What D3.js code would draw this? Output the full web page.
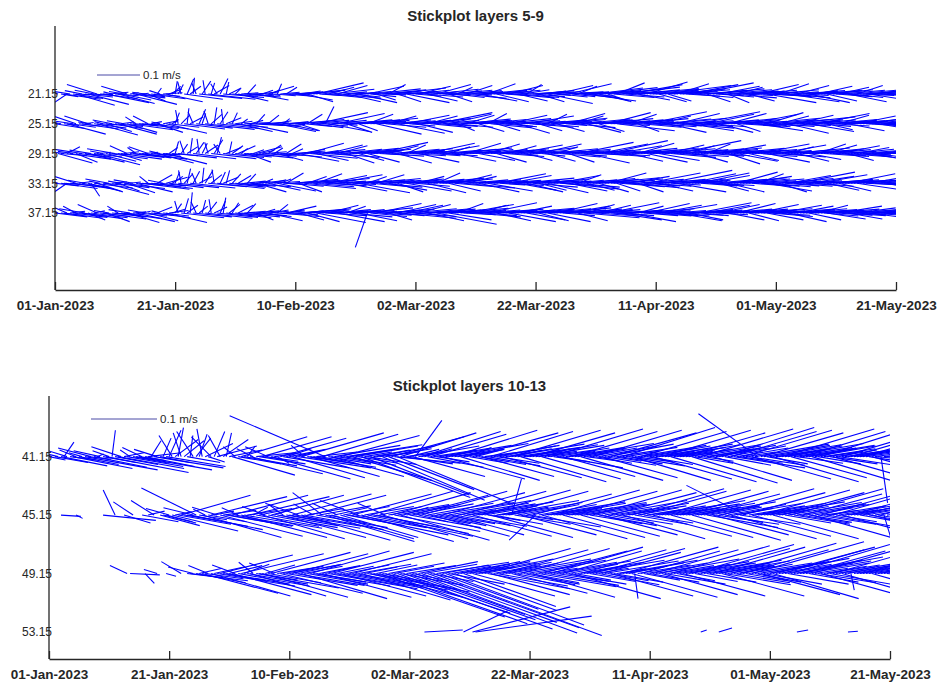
<!DOCTYPE html>
<html>
<head>
<meta charset="utf-8">
<script src="https://cdn.jsdelivr.net/npm/d3@7"></script>
<style>
  body { margin: 0; background: #ffffff; }
  svg { display: block; }
  text { font-family: "Liberation Sans", Arial, Helvetica, sans-serif; fill: #262626; }
</style>
</head>
<body>
<svg id="chart" width="942" height="686"></svg>
<script>
// ---- time axis ----
const startDate = "2023-01-01";
const endDate = "2023-05-21";
const stepHours = 12;
const tickDates = ["2023-01-01", "2023-01-21", "2023-02-10", "2023-03-02",
                   "2023-03-22", "2023-04-11", "2023-05-01", "2023-05-21"];

// ---- depths (m) ----
const topDepths = [21.15, 25.15, 29.15, 33.15, 37.15];
const bottomDepths = [41.15, 45.15, 49.15, 53.15];
const scaleBarSpeed = 0.1; // m/s

// ---- velocity components, mm/s, one value every 12 h ----
// layer 5 (21.15 m)
const u5 = [-60,-75,40,85,-30,-55,70,90,25,-40, 65,95,50,-45,-70,30,80,100,45,-20, 55,85,70,-35,-60,20,75,95,60,15,
 -30,40,80,60,10,-25,45,85,30,20, 5,12,-8,90,15,25,3,-10,100,20, -5,110,8,35,-15,18,95,6,28,60,
 12,70,40,85,20,55,30,75,45,25, 35,60,20,50,10,45,70,25,55,40, 65,80,45,95,60,30,75,110,50,40,
 85,60,100,45,70,95,55,80,35,65, 50,90,70,30,85,60,110,45,75,55, 95,40,70,120,55,80,35,100,65,85,
 60,75,45,90,70,50,105,80,40,65, 85,55,95,70,35,80,100,60,75,45, 70,90,50,110,65,85,40,75,95,60,
 55,80,100,45,70,90,60,35,85,75, 90,60,75,50,105,70,40,85,65,95, 65,100,55,80,45,90,70,115,60,85,
 110,70,130,85,55,120,95,65,140,80, 90,125,60,105,75,135,50,95,115,70, 100,65,85,155,55,95,120,75,60,110,
 80,115,60,90,130,70,100,55,85,120, 65,95,75,110,50,85,100,60,90,70, 85,60,105,70,95,55,80,115,65,90,
 100,70,55,90,120,65,85,75,105,60, 75,95,60,110,80,50,90,70,100,65, 85,70,100,55,90,75,110,60,80,95,
 70,90,65,85,100,60,80,95,75,85, 80];
const v5 = [10,24,-6,-12,-20,9,-10,-26,-2,8, -7,-24,-3,9,22,-1,-11,-20,4,5, -4,-22,-14,6,18,3,-9,-24,-6,2,
 4,-16,-11,-5,14,8,3,-18,12,18, 30,22,28,-12,35,18,38,25,-10,30, 32,-12,26,20,24,36,-8,28,14,-5,
 12,-16,3,-7,22,-4,2,-14,5,9, -3,18,10,-4,24,4,-5,16,3,-2, 5,-14,7,9,-18,4,10,26,-3,6,
 -8,16,11,-5,20,-10,5,-18,3,-7, 4,-20,6,2,18,-6,12,-14,5,-2, 10,22,7,14,-18,5,3,-20,6,9,
 -5,18,4,-7,-16,3,11,22,5,-3, 7,-18,9,-8,16,6,-10,20,8,-2, 4,-16,6,11,24,8,2,-18,9,5,
 -4,20,-9,3,-16,-8,10,22,5,-6, 8,-18,4,7,-22,6,-3,20,-7,5, 3,24,-6,5,18,-9,4,-16,-5,7,
 14,-16,15,8,-18,11,-8,26,16,6, -7,22,4,10,-14,13,6,28,11,3, 9,-18,7,20,-16,8,12,24,5,10,
 -5,22,6,-8,26,4,9,-18,7,12, -4,18,-7,10,-20,6,-9,16,7,-3, 6,-16,9,4,22,7,-3,-20,5,-6,
 10,24,6,-7,-18,5,-9,20,8,-3, 5,-20,8,9,18,4,7,-16,10,3, -6,16,9,-4,-18,-8,10,20,-3,7,
 5,-14,7,-3,16,4,-6,12,-2,3, 2];

// layer 6 (25.15 m)
const u6 = [70,-50,-80,35,90,60,-40,-65,50,85, 20,-55,-30,75,95,40,-20,60,80,-45, 65,90,30,-40,70,100,55,-25,45,85,
 50,-35,25,80,60,-20,35,95,70,15, 10,-6,20,95,4,30,-12,85,15,8, 115,-10,25,6,100,18,-4,35,90,12,
 40,80,15,60,95,30,70,20,50,85, 55,25,70,40,90,60,15,75,45,30, 80,50,100,65,35,90,70,120,45,60,
 20,95,55,75,110,40,85,60,100,50, 70,45,90,125,60,80,35,105,70,55, 95,65,50,85,110,40,75,100,60,90,
 55,80,115,45,70,95,60,130,50,85, 75,100,55,90,40,80,110,65,95,50, 85,60,105,70,45,95,75,55,120,80,
 65,90,50,100,75,40,85,110,60,95, 70,55,105,80,45,90,125,65,75,100, 50,85,70,95,60,115,40,80,100,65,
 90,60,120,75,100,55,85,135,70,95, 110,65,85,125,50,95,70,140,80,60, 95,75,115,55,90,130,65,100,80,120,
 70,105,60,90,145,75,55,110,85,65, 100,80,60,120,90,70,110,55,95,85, 65,115,90,75,105,60,130,85,70,100,
 90,70,110,60,95,150,75,85,100,65, 80,105,65,95,120,70,90,60,110,85, 95,70,100,60,85,115,75,90,65,105,
 75,90,70,100,85,65,95,80,90,70, 85];
const v6 = [-11,20,13,-4,-24,-8,6,22,-5,-12, 3,18,4,-10,-26,-2,5,-18,-11,9, -6,-24,4,7,-20,-14,-3,16,-5,-11,
 -4,18,5,-12,-20,4,7,-22,-8,10, 26,32,20,-12,36,16,28,-10,34,24, -13,30,22,38,-11,28,34,14,-8,26,
 6,-18,11,3,-20,8,-4,22,2,-6, 4,20,-5,7,-18,3,12,-16,5,-2, 7,-16,10,-6,22,8,-9,26,3,-5,
 40,-18,5,8,24,-3,6,-20,9,4, 6,-16,9,13,22,7,3,-24,8,5, -8,18,4,9,-22,3,7,20,-5,8,
 5,-20,12,3,18,-9,7,26,-4,8, -6,22,4,-8,-16,7,11,20,8,3, 7,-18,10,5,24,-9,6,-16,12,-7,
 4,20,-6,10,-22,3,7,18,-4,-8, 6,-16,9,-7,22,8,13,-18,5,10, -4,24,5,-9,18,11,3,-20,9,4,
 8,-18,12,6,26,4,7,-16,-4,9, 10,22,7,12,-18,-8,5,28,-5,4, -7,18,11,4,-20,13,-5,24,6,-10,
 5,-16,-4,7,28,-6,3,22,-7,6, 9,-20,6,12,24,5,10,-18,-6,7, 4,22,-7,6,-16,-4,13,26,-5,9,
 -6,18,10,3,-22,16,-5,20,9,-4, 7,-18,5,9,24,-6,6,-14,10,-5, 8,20,7,4,-16,10,5,18,6,8,
 -4,14,5,-5,-14,3,-6,12,4,-3, 3];

// layer 7 (29.15 m)
const u7 = [-45,80,60,-70,30,95,-35,50,75,-60, 40,85,-50,65,100,25,-30,70,90,45, -65,55,95,35,-40,80,60,-20,75,105,
 30,-45,70,50,85,-25,40,95,20,60, 8,90,15,-10,25,5,100,18,-5,12, 30,-8,105,20,10,-15,95,35,6,25,
 85,40,15,70,55,100,25,60,35,80, 50,30,75,20,60,45,90,35,65,25, 70,95,55,40,85,110,60,75,45,100,
 60,80,45,105,70,50,90,65,115,55, 85,60,100,40,75,95,55,120,70,45, 90,70,50,105,80,60,115,45,85,75,
 65,95,55,80,110,70,45,100,60,90, 75,50,105,65,90,120,55,80,70,95, 60,85,45,100,75,55,95,70,115,50,
 90,65,80,55,105,70,125,60,85,45, 70,100,55,85,65,110,75,50,95,80, 105,60,90,75,130,55,80,100,65,95,
 75,115,60,95,140,70,85,105,55,90, 120,80,65,100,85,135,60,95,75,110, 70,95,125,60,85,105,75,150,65,90,
 100,60,85,115,70,95,135,55,80,105, 80,110,65,90,75,125,60,95,85,70, 95,70,105,60,120,85,75,100,65,90,
 85,110,70,95,60,100,130,75,90,65, 100,75,90,115,65,85,105,70,95,80, 70,95,80,110,60,100,85,75,90,65,
 90,75,85,70,95,80,100,65,85,75, 80];
const v7 = [7,-22,-5,10,16,-13,5,-20,-9,9, -4,-20,8,-8,-26,3,6,-18,-12,-3, 11,-16,-13,4,18,-9,-5,14,-10,-13,
 3,16,-7,-4,-22,6,-3,-24,14,-5, 28,-10,22,30,16,36,-12,26,34,24, 20,26,-12,32,38,22,-9,14,28,18,
 -8,18,12,-5,-20,-10,9,16,7,-6, 4,20,-4,13,-16,-3,-8,22,2,11, 6,-18,10,3,24,-11,4,-16,7,9,
 -4,20,5,-9,18,3,10,-22,12,4, 8,-16,9,3,-20,10,5,26,-4,6, -6,18,4,10,-22,5,11,20,-5,8,
 5,-20,6,7,24,-5,4,18,-3,8, -5,16,10,6,-18,13,3,24,7,9, 6,-16,5,9,22,4,8,-20,11,3,
 -7,18,8,-4,20,6,14,-16,7,4, 4,22,-6,7,-18,11,5,16,-8,6, 10,-20,7,-6,26,4,6,-22,5,8,
 -4,22,5,-7,30,6,-5,18,3,7, 12,-18,5,8,24,13,4,-20,6,10, 5,-16,11,4,20,-9,6,30,-4,8,
 -7,18,9,11,-20,7,13,22,-6,9, 6,20,-5,7,-24,12,4,-18,8,5, 8,-16,9,5,22,-7,6,-20,4,7,
 -6,20,5,-8,16,9,13,-18,7,3, 7,-14,6,11,22,8,-7,20,9,4, -5,18,5,-8,-16,10,-6,14,7,-3,
 6,-12,5,3,-14,7,4,10,5,2, -2];

// layer 8 (33.15 m)
const u8 = [55,-60,85,40,-35,70,95,-50,30,65, -40,75,20,90,60,-25,45,100,-55,35, 80,50,-30,95,65,25,-45,85,55,110,
 40,-20,70,90,35,60,-35,50,80,25, 10,95,-6,20,8,105,15,-10,30,4, 18,90,25,-5,110,12,35,8,85,20,
 65,30,80,50,20,95,40,70,55,25, 45,75,35,60,90,25,55,40,80,60, 100,55,80,120,45,70,95,60,85,110,
 65,90,50,75,105,60,40,95,70,55, 85,120,60,95,45,80,110,65,100,75, 55,90,70,115,60,85,50,105,75,95,
 80,60,100,45,90,125,70,55,95,65, 110,75,55,95,80,60,120,70,90,50, 70,95,65,85,105,50,80,115,60,90,
 55,100,75,60,90,125,65,85,70,105, 85,65,110,50,95,75,60,100,80,130, 60,90,75,105,55,85,120,65,95,70,
 100,70,135,60,90,80,115,55,105,75, 65,95,110,75,60,100,85,125,70,90, 105,80,60,95,150,70,85,115,65,100,
 75,110,90,65,120,85,55,100,80,95, 90,70,105,60,85,130,75,95,65,110, 70,100,85,115,60,90,75,105,95,65,
 95,65,120,80,100,70,90,135,60,85, 80,105,70,90,115,60,95,75,100,85, 100,75,90,65,110,85,70,95,80,105,
 85,70,95,80,90,75,100,70,85,80, 85];
const v8 = [-6,18,-12,-3,-24,-8,-13,16,4,-10, 7,-18,-30,-11,-20,5,-4,-26,10,3, -10,-18,5,-12,-22,3,8,-20,-5,-14,
 -3,16,-9,-12,20,-6,7,14,-10,16, 26,-10,30,22,34,-11,28,24,16,36, 30,-8,20,32,-12,26,14,30,-9,22,
 -6,18,-7,5,22,-8,4,-20,6,10, 3,-16,8,4,-18,10,-3,24,-7,5, 9,-20,6,-12,16,7,-8,22,8,11,
 -4,18,3,-6,20,5,4,-18,6,-3, 6,-22,5,8,16,-7,11,20,-9,7, 5,-16,7,10,-20,6,3,-18,8,5,
 -7,16,9,5,-22,12,6,24,8,4, 10,-18,6,-8,20,4,-11,16,8,3, 6,-20,4,8,-18,5,6,22,-4,7,
 3,18,-5,6,-16,12,5,-20,7,-9, 7,-16,10,4,-22,6,5,18,-5,-13, 5,-18,7,-9,20,8,11,-16,6,4,
 9,-20,13,6,24,5,10,-18,-8,7, -4,16,-10,6,-20,9,-6,24,5,-7, 7,-18,6,9,30,-4,7,-20,5,10,
 6,22,7,5,24,-6,4,18,-5,8, -5,-18,9,4,-20,13,5,26,6,10, 4,16,-6,10,22,-7,6,-18,-8,3,
 7,-20,11,-6,18,5,-7,26,4,6, -5,16,6,-7,20,4,7,-16,9,5, 8,-18,5,4,22,7,6,-14,7,9,
 -4,12,6,-5,14,7,-3,-12,3,-2, 3];

// layer 9 (37.15 m)
const u9 = [75,-40,50,90,-55,35,80,-30,65,95, -60,40,85,25,-45,70,100,55,-35,80, 60,-25,95,45,75,-50,30,90,65,20,
 -40,70,50,85,35,-20,60,95,45,30, 15,-8,100,10,25,5,90,-12,20,8, 110,20,-5,30,95,12,6,105,25,15,
 70,35,90,50,20,85,60,40,75,30, 55,80,40,65,25,90,50,70,35,60, 85,60,105,45,75,95,55,115,70,50,
 95,70,55,85,110,65,80,45,100,75, 60,90,120,70,-28,85,55,105,75,95, 80,55,100,70,90,130,60,85,110,65,
 95,75,115,60,85,105,70,140,55,90, 70,100,80,125,60,95,75,110,85,65, 105,65,90,75,115,55,100,80,70,95,
 75,110,60,95,80,125,70,90,105,65, 90,70,115,55,100,80,65,95,120,75, 60,95,80,110,70,85,130,65,100,75,
 100,75,90,65,120,85,70,105,80,95, 85,110,70,95,60,125,80,100,75,90, 70,100,85,60,115,90,75,105,65,95,
 110,80,95,70,125,65,90,100,75,85, 75,95,65,110,85,70,100,90,60,105, 90,70,105,80,95,120,65,85,100,75,
 80,100,70,115,90,65,95,85,110,75, 95,75,105,85,70,100,80,90,115,65, 85,100,70,95,80,110,75,90,85,100,
 80,95,75,90,85,70,95,80,90,75, 85];
const v9 = [-9,18,-5,-12,24,4,-10,16,-7,-13, 10,-16,-11,5,20,-8,-14,-20,6,-9, -6,16,-13,-4,-22,8,3,-20,-7,4,
 7,-18,-5,-11,14,5,-7,-22,6,9, 22,28,-11,34,18,48,-9,26,16,30, -12,26,32,14,-10,28,36,-11,20,24,
 -7,18,-9,4,22,-6,5,-16,-8,9, 4,-18,7,-3,20,-8,5,16,8,-4, 6,-16,9,5,-20,10,3,-22,7,4,
 -6,18,4,8,-20,5,6,16,-9,8, 5,-18,12,6,-80,-8,4,22,-5,7, 7,-16,9,-6,20,-12,5,18,10,-5,
 -8,20,10,4,-18,9,5,-26,3,7, 6,-16,8,11,22,7,-4,20,6,4, -9,18,7,-6,24,4,8,-18,5,9,
 4,-20,6,7,16,11,5,-16,9,3, 7,-18,10,4,-20,6,5,22,12,-6, 5,16,7,9,-18,6,-11,20,8,5,
 -7,18,8,5,24,-5,4,-16,-6,7, 6,-20,5,7,16,10,-6,22,5,-7, 4,18,-6,5,20,-7,6,-18,3,-5,
 8,-16,6,4,24,-6,7,18,5,6, -4,20,5,9,-16,4,8,22,5,9, 6,-18,8,5,20,10,4,-16,-8,5,
 -5,18,6,9,-20,4,8,16,10,5, 6,-16,8,5,18,7,-7,-14,9,4, -5,16,5,-6,-14,8,-4,12,7,-5,
 5,-12,6,-3,10,4,-5,8,5,-2, 2];

// layer 10 (41.15 m)
const u10 = [25,-35,50,-60,70,15,-45,40,90,-25, 60,-20,110,35,-50,80,10,-40,50,125, -25,5,65,100,-45,30,85,-15,55,115,
 40,-30,75,50,15,105,-35,45,12,90, 18,-20,35,8,-12,30,50,4,-25,22, 12,-8,42,25,-30,16,60,-18,38,8,
 50,95,-18,65,100,80,12,110,-25,58, 70,105,50,-35,120,40,18,100,100,38, 55,110,35,110,125,-20,75,105,95,62,
 40,115,-145,65,110,100,58,120,80,115, 70,120,95,60,165,42,75,150,55,88, 60,155,70,130,110,100,175,115,75,58,
 45,110,40,92,120,42,85,115,65,50, 78,125,100,42,130,112,50,120,62,38, 58,130,42,72,110,55,80,125,100,65,
 85,120,70,115,135,42,95,130,55,108, 45,125,104,58,120,38,70,140,55,80, 96,110,45,85,130,120,55,125,65,50,
 72,135,55,88,115,78,100,130,42,92, 65,140,50,85,120,58,104,130,80,70, 92,120,78,112,135,45,88,130,100,58,
 50,125,70,108,130,58,96,140,45,72, 100,120,80,50,140,70,88,130,108,78, 65,135,45,85,120,112,-90,125,100,62,
 108,130,55,96,140,62,115,115,88,70, 85,125,104,72,120,92,65,140,78,55, 72,120,62,85,135,55,78,125,92,65,
 80,105,92,72,100,85,70,10,78,65, 70];
const v10 = [-5,8,-9,15,-14,22,14,-5,-18,10, -12,6,-20,-4,13,-16,4,9,-9,-24, 9,40,-12,-18,15,6,-15,10,-10,-20,
 -6,14,-15,6,24,-17,11,-9,28,-15, 40,32,26,44,36,24,-9,32,38,28, 34,42,20,-8,30,38,16,32,26,36,
 10,-28,15,-11,30,-14,16,-26,12,6, -11,30,-7,15,-34,6,-10,28,-17,12, 11,-32,8,-17,36,17,-11,-30,-16,7,
 -7,34,62,-11,-30,17,-10,32,-13,18, 11,-36,16,-10,-62,7,-12,-58,10,16, 7,-66,12,-50,30,-10,-72,36,-11,8,
 11,-30,55,16,38,12,-16,34,10,-8, 13,-34,17,10,40,20,8,-36,11,14, -10,36,11,-12,-30,7,-14,38,17,-10,
 16,-32,12,19,40,10,14,-38,8,18, 11,36,17,8,-34,12,10,42,-8,13, -17,-30,8,14,38,20,10,-36,12,-7,
 13,40,-10,16,-32,-13,19,36,-7,14, -11,44,8,-14,-36,-8,17,38,13,-12, 16,-34,12,19,40,8,14,-38,18,10,
 8,36,11,18,-40,-10,16,42,-7,12, 17,-36,13,10,44,-13,16,38,-17,13, -10,40,7,-13,-34,19,65,36,17,-11,
 18,-38,8,16,42,11,20,-32,14,-10, 13,38,17,12,-36,16,-11,44,12,8, -11,-34,10,-13,40,8,12,36,14,11,
 12,30,13,-11,-28,12,-8,-70,10,-6, 4];

// layer 11 (45.15 m); null = no data
const u11 = [null,null,null,null,30,null,null,null,null,10, null,null,null,null,null,null,null,null,80,null,
 null,null,-18,null,null,40,null,null,-30,null, null,55,null,25,null,-35,null,60,50,40,
 -35,100,25,80,105,50,92,110,-45,-83, 42,120,-18,58,115,30,-38,125,50,100, 65,115,88,-25,130,118,45,120,22,95,
 50,125,-35,105,110,35,92,130,-22,112, 62,120,100,-50,135,120,55,115,-30,108, 78,-45,135,58,125,50,-38,118,70,88,
 150,120,108,-58,140,75,160,125,100,140, 65,130,-42,92,120,130,78,135,38,82, 108,115,88,45,130,70,100,120,80,118,
 62,125,75,125,110,85,108,130,96,45, 100,120,118,58,135,80,50,125,75,125, 55,130,65,112,15,85,62,115,45,80,
 108,120,-40,88,130,122,50,135,70,105, 65,125,55,118,130,58,105,120,45,96, 80,135,62,88,115,125,70,130,58,85,
 105,125,92,55,140,80,62,130,75,50, 85,120,58,96,135,122,50,125,100,65, 62,130,105,58,135,70,118,120,85,108,
 75,115,96,65,140,58,88,130,105,55, 92,125,-90,85,120,108,50,135,75,118, 58,130,80,50,125,70,112,140,85,105,
 75,120,96,65,135,58,88,125,50,100, 85,135,62,92,115,50,105,130,58,88, 65,110,55,80,100,62,85,95,12,75, 70];
const v11 = [null,null,null,null,-2,null,null,null,null,-5, null,null,null,null,null,null,null,null,-8,null,
 null,null,38,null,null,-12,null,null,20,null, null,-10,null,6,null,22,null,-16,-12,-10,
 10,-24,5,-14,30,-8,-17,-22,11,41, -7,-34,9,-10,28,6,12,-32,7,-17, -12,30,-16,11,-34,-20,7,28,12,-17,
 10,-36,13,-19,30,11,-16,-34,16,-20, -11,32,-17,18,-38,-22,10,30,17,-19, 14,34,-40,-12,-36,11,18,-34,13,-16,
 -30,32,-19,22,-40,13,-32,36,-18,-28, 13,-36,18,16,34,-25,14,-38,12,16, -19,30,17,-10,36,-13,18,-32,-16,19,
 -12,34,-13,22,-30,-16,18,36,-17,8, 17,-32,20,11,38,14,-8,-34,-14,22, 10,36,12,19,55,-14,11,-30,-7,16,
 -18,32,-38,16,-36,20,8,38,13,18, 12,-34,10,19,36,11,17,-32,7,16, -13,38,11,-16,-30,22,-12,34,10,-14,
 18,-36,14,10,40,-14,11,36,-12,8, 14,-32,11,16,38,22,8,-34,17,11, 11,36,18,10,-38,12,20,32,14,-19,
 13,-30,-14,12,40,-11,16,-36,18,10, -14,34,45,14,-32,18,8,38,13,20, 10,-36,13,8,34,-12,19,40,-14,17,
 -12,32,16,-11,-38,11,-14,34,7,-17, 14,38,-10,16,-30,8,17,36,11,14, -11,30,10,-13,-26,11,-14,24,-40,8, -5];

// layer 12 (49.15 m); null = no data
const u12 = [null,null,null,null,null,null,null,null,null,null, null,null,null,null,null,null,null,null,null,null,
 null,null,null,null,null,null,-26,45,null,null, null,null,14,null,null,null,-20,null,null,15,
 null,null,null,null,-30,null,92,50,-38,75, 35,115,58,-30,120,45,118,110,65,96, 50,120,-35,108,125,38,92,115,-22,125,
 58,130,45,80,120,-38,70,125,55,108, 75,115,105,65,130,58,92,120,80,112, 62,135,45,135,125,108,55,130,120,65,
 100,120,140,80,135,50,155,140,125,62, 190,70,215,85,180,60,235,95,200,75, 175,55,245,90,205,80,230,65,255,110,
 150,70,210,85,60,155,95,75,140,50, 92,125,118,55,135,80,125,120,88,108, 62,130,80,125,115,92,112,135,85,120,
 75,125,58,118,130,50,108,140,96,80, 108,120,92,75,135,55,100,130,65,118, 70,140,50,92,120,112,62,125,75,45,
 118,145,88,58,130,5,80,120,55,92, 75,130,62,122,115,92,70,150,85,58, 105,125,55,96,155,65,88,135,118,75,
 92,140,112,80,125,100,70,160,85,58, 80,130,62,96,170,70,108,120,88,125, 65,130,150,80,125,118,92,150,135,85,
 108,125,96,75,150,50,88,130,65,80, 92,135,118,55,120,80,62,5,85,108, 75,115,58,88,100,96,55,95,65,85, 75];
const v12 = [null,null,null,null,null,null,null,null,null,null, null,null,null,null,null,null,null,null,null,null,
 null,null,null,null,null,null,12,-2,null,null, null,null,-15,null,null,null,6,null,null,-4,
 null,null,null,null,18,null,-11,-6,10,-14, 8,-30,-8,12,-34,10,-19,28,-11,-16, 12,-32,13,-19,30,14,-16,-34,17,-22,
 -10,-36,13,-14,32,16,11,-30,10,-18, 13,30,-18,14,-38,11,-16,34,-13,-19, 12,-36,10,-23,32,-19,11,-34,-22,13,
 -18,30,-25,14,-40,10,-28,-36,-23,13, -66,-13,-76,16,-60,11,-84,-18,-70,12, -62,-11,-90,18,-74,14,-82,-12,-94,17,
 -54,13,-78,-16,11,-56,18,14,-50,10, 18,-34,22,10,38,16,-23,-32,17,-19, 12,36,16,22,-30,-17,19,38,-16,20,
 -14,-36,11,-20,34,8,-18,40,17,-12, 19,34,-16,14,-38,-10,17,36,12,20, -12,38,8,-17,32,19,-11,-34,-13,7,
 20,40,16,11,-36,-38,13,34,-10,16, -13,36,11,22,-32,-16,12,42,14,-11, 18,-34,10,16,44,-12,16,38,20,-13,
 16,40,19,13,-34,-17,12,46,-14,11, 14,36,-11,16,48,-13,18,-32,-16,23, 12,-38,40,14,36,20,-16,44,25,16,
 19,34,16,-13,42,8,-14,-36,11,13, -16,38,20,10,-34,14,11,-25,16,19, 13,30,11,14,-28,16,8,24,11,-8, 4];

// layer 13 (53.15 m): only a few valid records (day offsets from start)
const day13 = [62.5, 69, 70.5, 71, 108.5, 111.5, 124.5, 133];
const u13 = [58, 67, 148, 176, 9, 20, 17, 15];
const v13 = [3, 32, 38, 24, 3, 6, 3, 1];

// ---- drawing ----
const svg = d3.select("#chart");
const parse = d3.utcParse("%Y-%m-%d");
const t0 = parse(startDate), t1 = parse(endDate);
const fmt = d3.utcFormat("%d-%b-%Y");

function seriesFromGrid(u, v) {
  return u.map((uu, i) => ({ date: d3.utcHour.offset(t0, i * stepHours), u: uu, v: v[i] }))
          .filter(d => d.u !== null && d.v !== null);
}
function seriesFromDays(days, u, v) {
  return days.map((dd, i) => ({ date: new Date(t0.getTime() + dd * 864e5), u: u[i], v: v[i] }));
}

const panels = [
  {
    id: "p1", title: "Stickplot layers 5-9", titleY: 21,
    left: 55, right: 896, top: 26, bottom: 290, yDomain: [12, 47.5],
    depths: topDepths, barPx: 43, barX: 97, barY: 75,
    layers: [seriesFromGrid(u5, v5), seriesFromGrid(u6, v6), seriesFromGrid(u7, v7),
             seriesFromGrid(u8, v8), seriesFromGrid(u9, v9)]
  },
  {
    id: "p2", title: "Stickplot layers 10-13", titleY: 391,
    left: 49, right: 890, top: 396, bottom: 659, yDomain: [37, 55],
    depths: bottomDepths, barPx: 66, barX: 91, barY: 419,
    layers: [seriesFromGrid(u10, v10), seriesFromGrid(u11, v11), seriesFromGrid(u12, v12),
             seriesFromDays(day13, u13, v13)]
  }
];

panels.forEach(p => {
  const x = d3.scaleUtc().domain([t0, t1]).range([p.left, p.right]);
  const y = d3.scaleLinear().domain(p.yDomain).range([p.top, p.bottom]);
  const speed = d3.scaleLinear().domain([0, scaleBarSpeed]).range([0, p.barPx]);

  const g = svg.append("g");

  svg.append("defs").append("clipPath").attr("id", "clip-" + p.id)
    .append("rect").attr("x", p.left).attr("y", p.top)
    .attr("width", p.right - p.left).attr("height", p.bottom - p.top);

  // sticks: each starts on its depth line and points along (u, v)
  const sticks = g.append("g").attr("clip-path", `url(#clip-${p.id})`);
  p.layers.forEach((series, li) => {
    const y0 = y(p.depths[li]);
    sticks.append("g")
      .selectAll("line").data(series).join("line")
      .attr("x1", d => x(d.date))
      .attr("y1", y0)
      .attr("x2", d => x(d.date) + speed(d.u / 1000))
      .attr("y2", d => y0 - speed(d.v / 1000))
      .attr("stroke", "#0000ff")
      .attr("stroke-width", 1.1);
  });

  // x axis, ticks pointing into the plot
  const xAxis = d3.axisBottom(x)
    .tickValues(tickDates.map(parse))
    .tickFormat(fmt)
    .tickSizeInner(-8).tickSizeOuter(0).tickPadding(10);
  const gx = g.append("g").attr("transform", `translate(0,${p.bottom})`).call(xAxis);
  gx.select(".domain").attr("stroke", "#262626").attr("stroke-width", 1.3);
  gx.selectAll(".tick line").attr("stroke", "#262626").attr("stroke-width", 1.3);
  gx.selectAll(".tick text").attr("font-size", 13.5).attr("font-weight", "bold")
    .attr("fill", "#262626").attr("font-family", '"Liberation Sans", Arial, sans-serif');

  // y axis (depth labels, no tick marks)
  const yAxis = d3.axisLeft(y).tickValues(p.depths).tickFormat(d3.format(".2f"))
    .tickSize(0).tickPadding(-3);
  const gy = g.append("g").attr("transform", `translate(${p.left},0)`).call(yAxis);
  gy.select(".domain").attr("d", `M0,${p.top}V${p.bottom}`)
    .attr("stroke", "#262626").attr("stroke-width", 1.3);
  gy.selectAll(".tick text").attr("font-size", 12).attr("fill", "#262626")
    .attr("font-family", '"Liberation Sans", Arial, sans-serif');

  // title
  g.append("text").attr("x", (p.left + p.right) / 2).attr("y", p.titleY)
    .attr("text-anchor", "middle").attr("font-size", 15).attr("font-weight", "bold")
    .text(p.title);

  // speed scale bar
  g.append("line").attr("x1", p.barX).attr("x2", p.barX + speed(scaleBarSpeed))
    .attr("y1", p.barY).attr("y2", p.barY)
    .attr("stroke", "#4a4aa6").attr("stroke-width", 1);
  g.append("text").attr("x", p.barX + speed(scaleBarSpeed) + 3).attr("y", p.barY + 4)
    .attr("font-size", 11.5).attr("fill", "#333").text(`${scaleBarSpeed} m/s`);
});
</script>
</body>
</html>
